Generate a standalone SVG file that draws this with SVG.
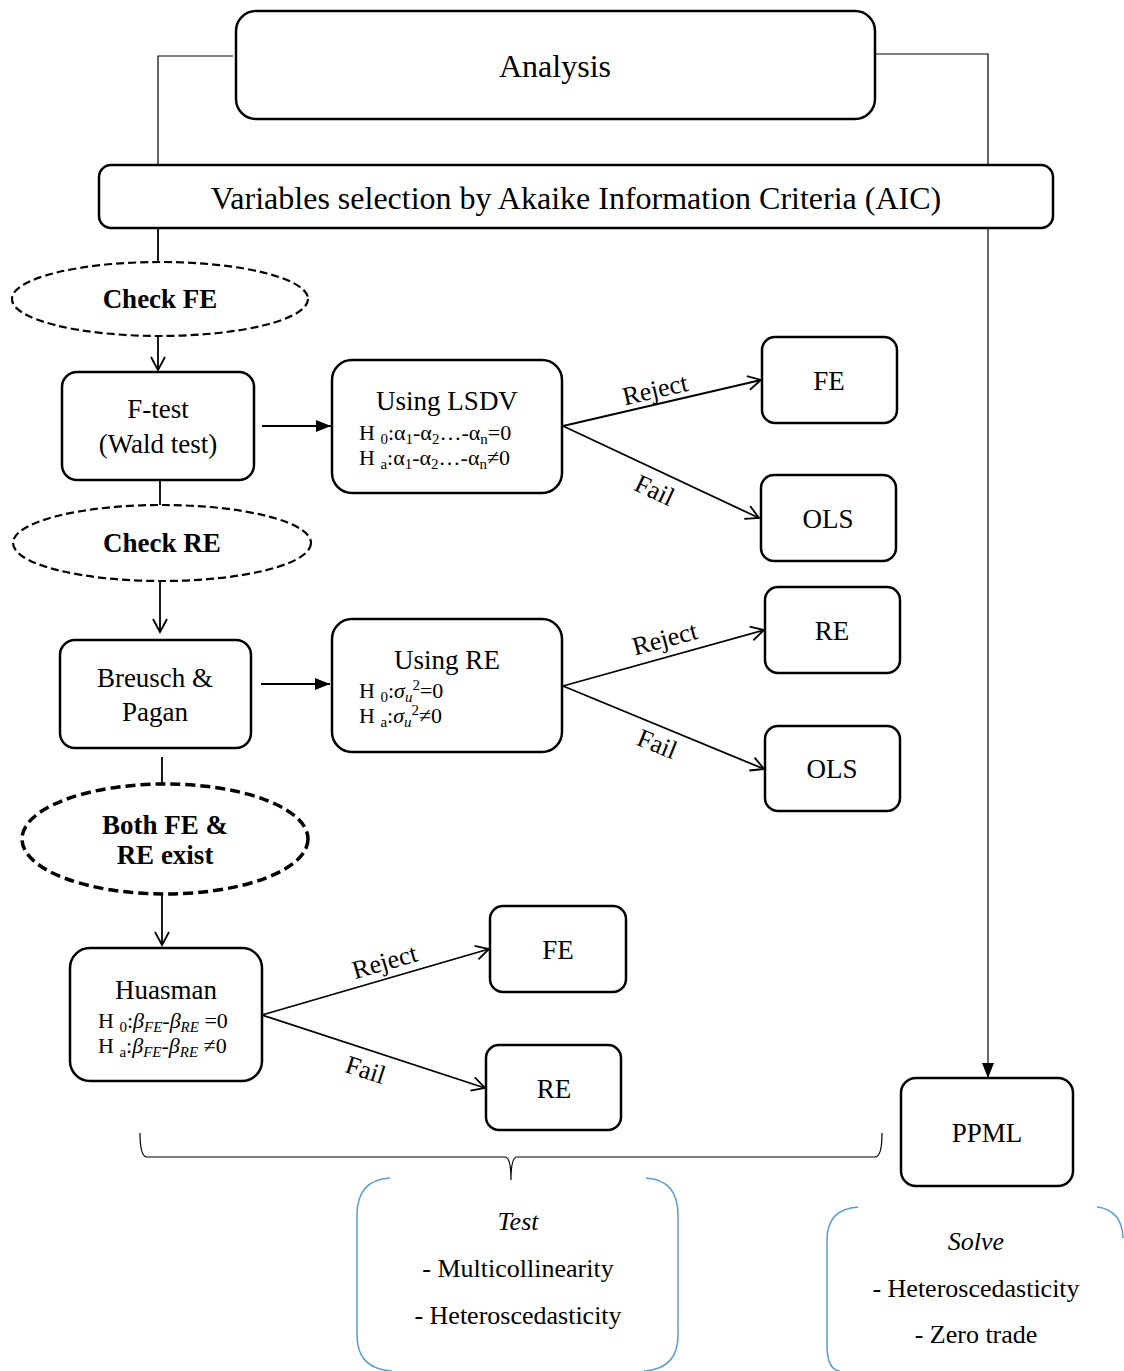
<svg xmlns="http://www.w3.org/2000/svg" width="1124" height="1371" viewBox="0 0 1124 1371">
<defs>
<style>
text{font-family:"Liberation Serif","Times New Roman",serif;fill:#000}
.box{fill:#fff;stroke:#000;stroke-width:2.5}
.ell{fill:#fff;stroke:#000;stroke-width:2.2;stroke-dasharray:8,4}
.ellb{fill:#fff;stroke:#000;stroke-width:3.5;stroke-dasharray:10,5}
.ln{fill:none;stroke:#000;stroke-width:1.8}
.thin{fill:none;stroke:#000;stroke-width:1.2}
.blue{fill:none;stroke:#5B9BD5;stroke-width:1.5}
.t26{font-size:26px}
.t27{font-size:27px}
.b{font-weight:bold}
.h{font-size:22px}
.sub{font-size:15px}
.i{font-style:italic}
</style>
<marker id="open" markerUnits="userSpaceOnUse" markerWidth="16" markerHeight="18" refX="14" refY="8" orient="auto">
<path d="M1,1 L14,8 L1,15" fill="none" stroke="#000" stroke-width="1.8"/>
</marker>
<marker id="fill" markerUnits="userSpaceOnUse" markerWidth="16" markerHeight="14" refX="15" refY="6" orient="auto">
<path d="M0,0 L15,6 L0,12 Z" fill="#000"/>
</marker>
</defs>
<rect width="1124" height="1371" fill="#fff"/>

<g id="connectors">
<path class="thin" d="M233,56 L158,56 L158,165" stroke="#555"/>
<path class="thin" d="M875,54 L988,54 L988,165"/>
<path class="thin" d="M988,228 L988,1078" marker-end="url(#fill)"/>
<path class="ln" d="M158,228 L158,262"/>
<path class="ln" d="M158,336 L158,370" marker-end="url(#open)"/>
<path class="ln" d="M262,426 L331,426" marker-end="url(#fill)"/>
<path class="ln" d="M563,426 L761,380" marker-end="url(#open)"/>
<path class="ln" d="M563,426 L759,518" marker-end="url(#open)"/>
<path class="ln" d="M160,480 L160,505"/>
<path class="ln" d="M160,581 L160,632" marker-end="url(#open)"/>
<path class="ln" d="M261,684 L330,684" marker-end="url(#fill)"/>
<path class="ln" d="M563,686 L764,630" marker-end="url(#open)"/>
<path class="ln" d="M563,686 L764,769" marker-end="url(#open)"/>
<path class="ln" d="M162,757 L162,784"/>
<path class="ln" d="M162,893 L162,945" marker-end="url(#open)"/>
<path class="ln" d="M262,1015 L489,949" marker-end="url(#open)"/>
<path class="ln" d="M262,1015 L485,1088" marker-end="url(#open)"/>
<text class="t26" transform="translate(657,398) rotate(-13)" text-anchor="middle">Reject</text>
<text class="t26" transform="translate(651,498) rotate(25)" text-anchor="middle">Fail</text>
<text class="t26" transform="translate(667,647) rotate(-15)" text-anchor="middle">Reject</text>
<text class="t26" transform="translate(654,752) rotate(22)" text-anchor="middle">Fail</text>
<text class="t26" transform="translate(387,970) rotate(-16)" text-anchor="middle">Reject</text>
<text class="t26" transform="translate(363,1078) rotate(18)" text-anchor="middle">Fail</text>
</g>

<g id="analysis">
<rect class="box" x="236" y="11" width="639" height="108" rx="20"/>
<text x="555" y="77" font-size="32" text-anchor="middle">Analysis</text>
</g>
<g id="aic">
<rect class="box" x="99" y="165" width="954" height="63" rx="12"/>
<text x="576" y="209" font-size="32" text-anchor="middle">Variables selection by Akaike Information Criteria (AIC)</text>
</g>
<g id="check-fe">
<ellipse class="ell" cx="160" cy="299" rx="148" ry="37"/>
<text class="t27 b" x="160" y="308" text-anchor="middle">Check FE</text>
</g>
<g id="ftest">
<rect class="box" x="62" y="372" width="192" height="108" rx="15"/>
<text class="t27" x="158" y="418" text-anchor="middle">F-test</text>
<text class="t27" x="158" y="453" text-anchor="middle">(Wald test)</text>
</g>
<g id="lsdv">
<rect class="box" x="332" y="360" width="230" height="133" rx="20"/>
<text class="t27" x="447" y="410" text-anchor="middle">Using LSDV</text>
<text class="h" x="359" y="440">H <tspan class="sub" dy="4">0</tspan><tspan dy="-4">:α</tspan><tspan class="sub" dy="4">1</tspan><tspan dy="-4">-α</tspan><tspan class="sub" dy="4">2</tspan><tspan dy="-4">…-α</tspan><tspan class="sub" dy="4">n</tspan><tspan dy="-4">=0</tspan></text>
<text class="h" x="359" y="465">H <tspan class="sub" dy="4">a</tspan><tspan dy="-4">:α</tspan><tspan class="sub" dy="4">1</tspan><tspan dy="-4">-α</tspan><tspan class="sub" dy="4">2</tspan><tspan dy="-4">…-α</tspan><tspan class="sub" dy="4">n</tspan><tspan dy="-4">≠0</tspan></text>
</g>
<g id="fe1">
<rect class="box" x="762" y="337" width="135" height="86" rx="13"/>
<text class="t27" x="829" y="390" text-anchor="middle">FE</text>
</g>
<g id="ols1">
<rect class="box" x="761" y="475" width="135" height="86" rx="13"/>
<text class="t27" x="828" y="528" text-anchor="middle">OLS</text>
</g>
<g id="check-re">
<ellipse class="ell" cx="162" cy="543" rx="149" ry="38"/>
<text class="t27 b" x="162" y="552" text-anchor="middle">Check RE</text>
</g>
<g id="breusch">
<rect class="box" x="60" y="640" width="191" height="108" rx="15"/>
<text class="t27" x="155" y="687" text-anchor="middle">Breusch &amp;</text>
<text class="t27" x="155" y="721" text-anchor="middle">Pagan</text>
</g>
<g id="using-re">
<rect class="box" x="332" y="619" width="230" height="133" rx="20"/>
<text class="t27" x="447" y="669" text-anchor="middle">Using RE</text>
<text class="h" x="359" y="698">H <tspan class="sub" dy="4">0</tspan><tspan dy="-4">:</tspan><tspan class="i">σ</tspan><tspan class="sub i" dy="4">u</tspan><tspan class="sub" dy="-12">2</tspan><tspan dy="8">=0</tspan></text>
<text class="h" x="359" y="723">H <tspan class="sub" dy="4">a</tspan><tspan dy="-4">:</tspan><tspan class="i">σ</tspan><tspan class="sub i" dy="4">u</tspan><tspan class="sub" dy="-12">2</tspan><tspan dy="8">≠0</tspan></text>
</g>
<g id="re1">
<rect class="box" x="765" y="587" width="135" height="86" rx="13"/>
<text class="t27" x="832" y="640" text-anchor="middle">RE</text>
</g>
<g id="ols2">
<rect class="box" x="765" y="726" width="135" height="85" rx="13"/>
<text class="t27" x="832" y="778" text-anchor="middle">OLS</text>
</g>
<g id="both">
<ellipse class="ellb" cx="165" cy="839" rx="143" ry="55"/>
<text class="t27 b" x="165" y="834" text-anchor="middle">Both FE &amp;</text>
<text class="t27 b" x="165" y="864" text-anchor="middle">RE exist</text>
</g>
<g id="huasman">
<rect class="box" x="70" y="948" width="192" height="133" rx="20"/>
<text class="t27" x="166" y="999" text-anchor="middle">Huasman</text>
<text class="h" x="98" y="1028">H <tspan class="sub" dy="4">0</tspan><tspan dy="-4">:</tspan><tspan class="i">β</tspan><tspan class="sub i" dy="4">FE</tspan><tspan dy="-4">-</tspan><tspan class="i">β</tspan><tspan class="sub i" dy="4">RE</tspan><tspan dy="-4"> =0</tspan></text>
<text class="h" x="98" y="1053">H <tspan class="sub" dy="4">a</tspan><tspan dy="-4">:</tspan><tspan class="i">β</tspan><tspan class="sub i" dy="4">FE</tspan><tspan dy="-4">-</tspan><tspan class="i">β</tspan><tspan class="sub i" dy="4">RE</tspan><tspan dy="-4"> ≠0</tspan></text>
</g>
<g id="fe2">
<rect class="box" x="490" y="906" width="136" height="86" rx="13"/>
<text class="t27" x="558" y="959" text-anchor="middle">FE</text>
</g>
<g id="re2">
<rect class="box" x="486" y="1045" width="135" height="85" rx="13"/>
<text class="t27" x="554" y="1098" text-anchor="middle">RE</text>
</g>
<g id="ppml">
<rect class="box" x="901" y="1078" width="172" height="108" rx="15"/>
<text class="t27" x="987" y="1142" text-anchor="middle">PPML</text>
</g>
<g id="brace">
<path class="thin" d="M140,1133 Q140,1157 147,1157 L505,1157 Q511,1157 511,1180 Q511,1157 517,1157 L875,1157 Q882,1157 882,1133"/>
</g>
<g id="test">
<path class="blue" d="M390,1178 Q357,1180 357,1215 L357,1335 Q357,1369 392,1371"/>
<path class="blue" d="M646,1178 Q678,1180 678,1215 L678,1335 Q678,1369 644,1371"/>
<text class="t26 i" x="518" y="1230" text-anchor="middle">Test</text>
<text class="t26" x="518" y="1277" text-anchor="middle">- Multicollinearity</text>
<text class="t26" x="518" y="1324" text-anchor="middle">- Heteroscedasticity</text>
</g>
<g id="solve">
<path class="blue" d="M858,1207 Q827,1209 827,1240 L827,1345 Q827,1370 840,1371"/>
<path class="blue" d="M1097,1207 Q1122,1210 1123,1238"/>
<text class="t26 i" x="976" y="1250" text-anchor="middle">Solve</text>
<text class="t26" x="976" y="1297" text-anchor="middle">- Heteroscedasticity</text>
<text class="t26" x="976" y="1343" text-anchor="middle">- Zero trade</text>
</g>
</svg>
